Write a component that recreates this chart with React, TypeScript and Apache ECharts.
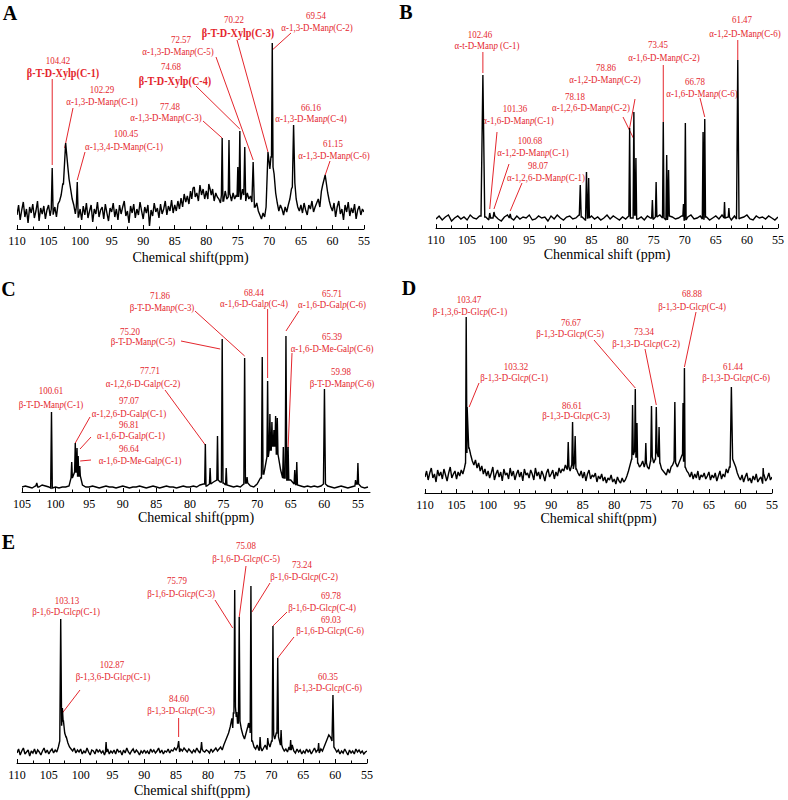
import { useEffect, useRef } from 'react';
import * as echarts from 'echarts';

const SERIF = '"Liberation Serif", "Times New Roman", Times, serif';
const RED = '#e4262d';

// Baseline heights (px above the axis), sampled from the left end of each axis.
// Spectrum A: 110 -> 55 ppm, every 0.25 ppm
const baseA = [
  14, 24, 9, 19, 27, 12, 20, 6, 22, 16, 25, 11, 18, 28, 8, 21, 15, 23, 10, 19,
  24, 13, 20, 15, 22, 12, 25, 28, 34, 45, 58, 70, 62, 50, 40, 30, 24, 15, 22, 12,
  20, 9, 23, 14, 26, 11, 18, 24, 7, 20, 15, 27, 12, 19, 22, 10, 25, 16, 8, 21,
  17, 26, 12, 20, 9, 24, 15, 22, 28, 13, 18, 6, 23, 16, 25, 11, 20, 14, 27, 18,
  10, 22, 16, 24, 3, 19, 13, 26, 17, 21, 11, 25, 15, 20, 28, 14, 23, 18, 29, 16,
  24, 18, 28, 20, 31, 22, 35, 27, 33, 25, 38, 30, 42, 32, 36, 28, 44, 34, 40, 30,
  38, 30, 45, 34, 40, 28, 36, 32, 30, 26, 34, 28, 38, 30, 32, 35, 28, 36, 30, 34,
  32, 38, 30, 40, 34, 28, 36, 30, 33, 27, 32, 22, 26, 18, 14, 10, 16, 12, 22, 35,
  60, 72, 62, 55, 36, 26, 18, 24, 20, 14, 22, 17, 24, 30, 40, 42, 46, 30, 22, 18,
  24, 16, 26, 19, 14, 24, 20, 28, 17, 22, 26, 30, 22, 38, 44, 50, 46, 36, 28, 22,
  18, 26, 12, 22, 28, 15, 20, 9, 24, 17, 27, 13, 21, 16, 25, 10, 19, 23, 14, 20,
  17,
];
// [ppm, height, half-width]
const peaksA: [number, number, number][] = [
  [104.42, 61, 0.15], [102.29, 86, 0.35], [100.45, 47, 0.15], [82.1, 41, 0.2],
  [79.4, 40, 0.2], [77.48, 91, 0.12], [76.4, 89, 0.12], [75.0, 62, 0.12],
  [74.68, 98, 0.12], [73.9, 82, 0.15], [72.57, 67, 0.2], [70.22, 77, 0.3],
  [69.54, 186, 0.12], [66.16, 104, 0.2], [61.15, 54, 0.4],
];
const annA: [number, string, boolean][] = [
  [104.42, 'β-T-D-Xylp(C-1)', true],
  [102.29, 'α-1,3-D-Man{i|p}(C-1)', false],
  [100.45, 'α-1,3,4-D-Man{i|p}(C-1)', false],
  [72.57, 'α-1,3-D-Man{i|p}(C-5)', false],
  [74.68, 'β-T-D-Xylp(C-4)', true],
  [77.48, 'α-1,3-D-Man{i|p}(C-3)', false],
  [70.22, 'β-T-D-Xylp(C-3)', true],
  [69.54, 'α-1,3-D-Man{i|p}(C-2)', false],
  [66.16, 'α-1,3-D-Man{i|p}(C-4)', false],
  [61.15, 'α-1,3-D-Man{i|p}(C-6)', false],
];

// Spectrum B: 110 -> 55 ppm, every 0.5 ppm
const baseB = [
  9, 12, 8, 11, 13, 7, 10, 12, 9, 11,
  8, 13, 10, 9, 12, 14, 11, 8, 10, 12,
  9, 7, 11, 13, 10, 8, 12, 9, 11, 10,
  13, 8, 9, 12, 10, 11, 7, 12, 9, 13,
  10, 8, 11, 12, 9, 10, 13, 11, 8, 10,
  12, 9, 11, 8, 10, 13, 9, 12, 10, 8,
  11, 9, 12, 10, 13, 9, 11, 8, 12, 10,
  9, 11, 13, 10, 8, 12, 11, 9, 10, 12,
  8, 11, 13, 9, 10, 12, 9, 11, 8, 10,
  12, 9, 13, 10, 11, 8, 12, 9, 10, 11,
  13, 9, 8, 12, 10, 11, 9, 12, 10, 8,
  11,
];
const peaksB: [number, number, number][] = [
  [102.46, 153, 0.3], [101.36, 15, 0.15], [100.68, 16, 0.15], [98.07, 14, 0.15],
  [86.8, 43, 0.15], [85.8, 56, 0.15], [85.45, 50, 0.12], [78.86, 100, 0.12],
  [78.18, 116, 0.12], [77.85, 70, 0.12], [75.2, 28, 0.12], [74.6, 46, 0.12],
  [73.45, 106, 0.12], [72.9, 73, 0.12], [72.6, 58, 0.12], [70.2, 24, 0.1],
  [69.9, 105, 0.12], [67.05, 96, 0.12], [66.78, 109, 0.12], [63.6, 26, 0.1],
  [62.9, 20, 0.1], [61.47, 168, 0.2],
];
const annB: [number, string, boolean][] = [
  [102.46, 'α-t-D-Man{i|p} (C-1)', false],
  [101.36, 'α-1,6-D-Man{i|p}(C-1)', false],
  [100.68, 'α-1,2-D-Man{i|p}(C-1)', false],
  [98.07, 'α-1,2,6-D-Man{i|p}(C-1)', false],
  [78.86, 'α-1,2-D-Man{i|p}(C-2)', false],
  [78.18, 'α-1,2,6-D-Man{i|p}(C-2)', false],
  [73.45, 'α-1,6-D-Man{i|p}(C-2)', false],
  [66.78, 'α-1,6-D-Man{i|p}(C-6)', false],
  [61.47, 'α-1,2-D-Man{i|p}(C-6)', false],
];

// Spectrum C: 105 -> 53.5 ppm, every 0.5 ppm
const baseC = [
  5, 6, 5, 4, 6, 5, 7, 6, 5, 4,
  5, 4, 5, 5, 6, 14, 20, 16, 7, 5,
  5, 6, 5, 4, 5, 6, 5, 5, 4, 5,
  6, 5, 4, 5, 5, 6, 5, 4, 5, 6,
  5, 4, 5, 6, 5, 5, 4, 5, 6, 5,
  5, 6, 5, 7, 8, 6, 8, 10, 12, 10,
  9, 7, 6, 5, 6, 5, 8, 9, 6, 5,
  8, 14, 18, 35, 42, 46, 38, 22, 14, 12,
  12, 8, 7, 6, 5, 6, 5, 6, 5, 6,
  8, 6, 5, 4, 5, 6, 5, 4, 5, 6,
  8, 5, 4, 5,
];
const peaksC: [number, number, number][] = [
  [102.8, 9, 0.15], [100.61, 80, 0.12], [97.6, 30, 0.1], [97.07, 49, 0.1],
  [96.81, 44, 0.08], [96.64, 36, 0.08], [96.4, 26, 0.08], [77.71, 48, 0.1],
  [77.0, 24, 0.1], [75.9, 56, 0.1], [75.2, 153, 0.12], [74.6, 24, 0.1],
  [71.86, 134, 0.12], [71.5, 15, 0.1], [69.24, 135, 0.12], [68.44, 111, 0.1],
  [68.1, 78, 0.1], [67.8, 70, 0.1], [67.5, 62, 0.1], [67.25, 76, 0.1],
  [67.0, 74, 0.1], [66.1, 45, 0.1], [65.71, 156, 0.12], [65.39, 45, 0.1],
  [64.4, 22, 0.1], [64.1, 30, 0.1], [59.98, 103, 0.15], [55.35, 12, 0.1],
  [55.0, 29, 0.1],
];
const annC: [number, string, boolean][] = [
  [100.61, 'β-T-D-Man{i|p}(C-1)', false],
  [97.07, 'α-1,2,6-D-Gal{i|p}(C-1)', false],
  [96.81, 'α-1,6-D-Gal{i|p}(C-1)', false],
  [96.64, 'α-1,6-D-Me-Gal{i|p}(C-1)', false],
  [77.71, 'α-1,2,6-D-Gal{i|p}(C-2)', false],
  [75.2, 'β-T-D-Man{i|p}(C-5)', false],
  [71.86, 'β-T-D-Man{i|p}(C-3)', false],
  [68.44, 'α-1,6-D-Gal{i|p}(C-4)', false],
  [65.71, 'α-1,6-D-Gal{i|p}(C-6)', false],
  [65.39, 'α-1,6-D-Me-Gal{i|p}(C-6)', false],
  [59.98, 'β-T-D-Man{i|p}(C-6)', false],
];
const ticksC = [55, 60, 65, 70, 75, 80, 85, 90, 95, 100, 105];
const minorTicksC = [57.5, 62.5, 67.5, 72.5, 77.5, 82.5, 87.5, 92.5, 97.5, 102.5];

// Spectrum D: 110 -> 55 ppm, every 0.25 ppm
const baseD = [
  16, 22, 13, 20, 25, 15, 19, 11, 23, 17, 21, 14, 24, 18, 12, 20, 26, 15, 19, 22,
  14, 21, 17, 23, 19, 25, 30, 40, 45, 38, 32, 28, 33, 25, 30, 22, 27, 19, 24, 17,
  22, 15, 20, 26, 13, 19, 23, 16, 21, 12, 24, 18, 20, 14, 25, 17, 22, 13, 19, 23,
  16, 21, 12, 24, 18, 20, 15, 23, 19, 13, 25, 17, 21, 14, 22, 18, 12, 20, 24, 16,
  19, 23, 14, 21, 17, 25, 20, 24, 22, 28, 24, 26, 22, 28, 24, 30, 24, 20, 17, 22,
  15, 21, 12, 19, 23, 14, 18, 16, 20, 11, 17, 14, 19, 12, 16, 10, 15, 13, 18, 11,
  14, 9, 16, 12, 10, 15, 11, 13, 17, 22, 28, 34, 38, 42, 36, 30, 26, 28, 32, 26,
  30, 26, 24, 32, 36, 30, 34, 40, 36, 30, 24, 22, 20, 18, 24, 20, 26, 28, 32, 30,
  26, 30, 34, 38, 32, 26, 22, 20, 16, 21, 14, 19, 15, 22, 13, 18, 16, 20, 14, 17,
  21, 13, 18, 15, 20, 12, 17, 22, 14, 19, 16, 24, 20, 26, 30, 34, 30, 26, 20, 16,
  13, 18, 11, 16, 20, 12, 15, 10, 17, 13, 19, 11, 14, 16, 10, 18, 12, 15, 20, 13,
  16,
];
const peaksD: [number, number, number][] = [
  [103.47, 176, 0.12], [103.32, 86, 0.25], [87.3, 51, 0.12], [86.61, 71, 0.12],
  [86.2, 57, 0.12], [77.1, 88, 0.12], [76.67, 104, 0.1], [76.4, 70, 0.1],
  [75.0, 50, 0.1], [74.1, 87, 0.12], [73.34, 86, 0.12], [72.9, 66, 0.12],
  [70.4, 91, 0.12], [69.1, 90, 0.08], [68.88, 125, 0.1], [61.44, 106, 0.2],
  [56.4, 25, 0.08],
];
const annD: [number, string, boolean][] = [
  [103.47, 'β-1,3,6-D-Glc{i|p}(C-1)', false],
  [103.32, 'β-1,3-D-Glc{i|p}(C-1)', false],
  [86.61, 'β-1,3-D-Glc{i|p}(C-3)', false],
  [76.67, 'β-1,3-D-Glc{i|p}(C-5)', false],
  [73.34, 'β-1,3-D-Glc{i|p}(C-2)', false],
  [68.88, 'β-1,3-D-Glc{i|p}(C-4)', false],
  [61.44, 'β-1,3-D-Glc{i|p}(C-6)', false],
];

// Spectrum E: 110 -> 55 ppm, every 0.25 ppm
const baseE = [
  10, 14, 8, 12, 15, 9, 11, 13, 7, 12, 10, 14, 9, 13, 11, 8, 12, 15, 10, 13,
  9, 12, 14, 10, 13, 11, 16, 22, 38, 42, 34, 26, 20, 16, 14, 12, 15, 10, 13, 11,
  14, 9, 12, 10, 15, 11, 8, 13, 12, 9, 14, 11, 13, 10, 12, 8, 11, 14, 9, 12,
  10, 13, 9, 14, 11, 12, 8, 13, 10, 15, 11, 9, 12, 14, 10, 13, 11, 8, 12, 10,
  13, 10, 12, 9, 14, 11, 13, 10, 12, 15, 10, 13, 9, 12, 11, 14, 10, 13, 12, 15,
  13, 16, 11, 14, 12, 15, 13, 11, 14, 12, 10, 13, 11, 15, 12, 10, 14, 12, 11, 13,
  12, 10, 14, 11, 13, 15, 12, 14, 16, 13, 18, 22, 26, 30, 36, 44, 50, 56, 46, 40,
  42, 34, 28, 24, 30, 36, 40, 30, 22, 16, 14, 18, 13, 16, 12, 15, 18, 14, 20, 16,
  22, 28, 24, 30, 26, 22, 18, 15, 12, 14, 11, 16, 13, 18, 12, 10, 14, 11, 13, 9,
  12, 10, 14, 11, 13, 9, 12, 15, 11, 13, 10, 14, 12, 16, 20, 24, 28, 26, 22, 16,
  14, 11, 13, 9, 12, 10, 14, 11, 8, 13, 10, 12, 9, 14, 11, 13, 10, 12, 9, 11,
  12,
];
const peaksE: [number, number, number][] = [
  [103.13, 144, 0.15], [102.87, 55, 0.12], [102.5, 30, 0.2], [96.0, 21, 0.1],
  [84.6, 22, 0.15], [81.0, 21, 0.1], [76.1, 35, 0.1], [75.79, 173, 0.12],
  [75.45, 51, 0.1], [75.08, 146, 0.12], [73.5, 35, 0.1], [73.24, 177, 0.12],
  [71.8, 26, 0.1], [70.6, 25, 0.1], [69.78, 137, 0.12], [69.03, 105, 0.12],
  [68.5, 33, 0.1], [67.0, 23, 0.1], [62.6, 20, 0.1], [60.35, 68, 0.15],
];
const annE: [number, string, boolean][] = [
  [103.13, 'β-1,6-D-Glc{i|p}(C-1)', false],
  [102.87, 'β-1,3,6-D-Glc{i|p}(C-1)', false],
  [84.6, 'β-1,3-D-Glc{i|p}(C-3)', false],
  [75.79, 'β-1,6-D-Glc{i|p}(C-3)', false],
  [75.08, 'β-1,6-D-Glc{i|p}(C-5)', false],
  [73.24, 'β-1,6-D-Glc{i|p}(C-2)', false],
  [69.78, 'β-1,6-D-Glc{i|p}(C-4)', false],
  [69.03, 'β-1,6-D-Glc{i|p}(C-6)', false],
  [60.35, 'β-1,3-D-Glc{i|p}(C-6)', false],
];

// Label placement in page pixels:
// [numberX, numberY, nameX, nameY, leaderStartX (-1 = vertical, null = none), leaderStartY, endDx, endDy]
type Place = [number, number, number, number, number | null, number, number, number];
const placeA: Place[] = [
  [58, 60, 63, 73, -1, 79, 0, -3],
  [102, 89, 102, 101, 73, 108, -1, 5],
  [126, 133, 124, 146, 85, 152, 0, -2],
  [181, 39, 178, 51, 216, 57, 0, -2],
  [171, 66, 175, 81, 196, 86, 0, -2],
  [170, 106, 166, 117, 203, 121, 0, 0],
  [234, 19, 238, 33, 237, 40, 0, 0],
  [316, 15, 317, 27, 291, 33, 0, 7],
  [311, 107, 311, 118, null, 0, 0, 0],
  [333, 143, 334, 155, 330, 161, 0, 0],
];
const placeB: Place[] = [
  [480, 34, 487, 45, -1, 52, 0, -2],
  [515, 108, 518, 120, 497, 132, 0, -4],
  [530, 140, 533, 152, 509, 164, 0, -3],
  [538, 165, 546, 177, 522, 183, 0, -3],
  [606, 67, 605, 79, 635, 99, 0, 0],
  [575, 96, 591, 107, 623, 117, 0, 27],
  [658, 44, 664, 57, -1, 65, 0, 0],
  [695, 81, 702, 93, 700, 98, 0, -2],
  [742, 19, 745, 33, -1, 40, 0, 0],
];
const placeC: Place[] = [
  [51, 390, 51, 404, null, 0, 0, 0],
  [129, 400, 129, 413, 90, 417, 0, 0],
  [129, 424, 131, 435, 91, 437, 3, 1],
  [129, 448, 140, 460, 91, 460, 2, 5],
  [150, 370, 143, 383, 165, 390, 0, 1],
  [130, 331, 143, 341, 181, 341, -2, 10],
  [160, 295, 162, 307, 195, 311, 0, -2],
  [254, 292, 254, 303, -1, 309, 0, -3],
  [332, 293, 332, 304, 299, 311, 0, -5],
  [332, 336, 332, 348, 292, 353, 0, 1],
  [341, 371, 342, 383, null, 0, 0, 0],
];
const placeD: Place[] = [
  [469, 299, 470, 311, null, 0, 0, 0],
  [516, 366, 514, 377, 479, 383, 2, 0],
  [572, 405, 576, 415, null, 0, 0, 0],
  [571, 322, 570, 333, 594, 340, 0, -1],
  [644, 331, 646, 343, 645, 349, 0, -2],
  [692, 293, 692, 306, 696, 312, 0, -1],
  [733, 366, 736, 377, null, 0, 0, 0],
];
const placeE: Place[] = [
  [67, 600, 66, 611, null, 0, 0, 0],
  [112, 664, 113, 676, 80, 690, 0, 5],
  [179, 698, 181, 710, -1, 718, 0, -4],
  [177, 580, 181, 593, 215, 600, -2, 38],
  [246, 545, 246, 558, 246, 566, 0, 0],
  [302, 564, 304, 576, 270, 583, 1, 26],
  [331, 595, 322, 607, 287, 612, 0, 0],
  [331, 619, 330, 630, 294, 637, 0, 0],
  [328, 676, 328, 687, null, 0, 0, 0],
];

const TITLE = 'Chemical shift(ppm)';

const panels = [
  { tag: 'A', tagX: 10, tagY: 12.5, grid: { left: 17, top: 5, width: 347, height: 224 }, min: 55, max: 110, start: 110, step: 0.25,
    base: baseA, peaks: peaksA, ann: annA, place: placeA, title: TITLE, nameGap: 21 },
  { tag: 'B', tagX: 406, tagY: 11.5, grid: { left: 436, top: 5, width: 342, height: 223 }, min: 55, max: 110, start: 110, step: 0.5,
    base: baseB, peaks: peaksB, ann: annB, place: placeB, title: 'Chenmical shift (ppm)', nameGap: 19 },
  { tag: 'C', tagX: 8.5, tagY: 288.5, grid: { left: 22, top: 270, width: 348, height: 222 }, min: 53.2, max: 105, start: 105, step: 0.5,
    base: baseC, peaks: peaksC, ann: annC, place: placeC, title: TITLE, nameGap: 18, custom: true },
  { tag: 'D', tagX: 409, tagY: 288, grid: { left: 425, top: 270, width: 347, height: 223 }, min: 55, max: 110, start: 110, step: 0.25,
    base: baseD, peaks: peaksD, ann: annD, place: placeD, title: TITLE, nameGap: 18 },
  { tag: 'E', tagX: 8.5, tagY: 541.5, grid: { left: 17, top: 535, width: 350, height: 228 }, min: 55, max: 110, start: 110, step: 0.25,
    base: baseE, peaks: peaksE, ann: annE, place: placeE, title: TITLE, nameGap: 20 },
];

// Joins the sampled baseline with each listed peak (foot, top, foot), ordered by shift.
function buildTrace(start: number, step: number, base: number[], peaks: [number, number, number][]) {
  const nearest = (ppm: number) => {
    const i = Math.round((start - ppm) / step);
    return base[Math.max(0, Math.min(base.length - 1, i))];
  };
  const pts: [number, number][] = [];
  base.forEach((v, i) => {
    const ppm = start - i * step;
    if (peaks.some(([p, , w]) => ppm > p - w && ppm < p + w)) return;
    pts.push([ppm, v]);
  });
  peaks.forEach(([p, h, w]) => {
    pts.push([p + w, nearest(p + w)], [p, h], [p - w, nearest(p - w)]);
  });
  pts.sort((a, b) => b[0] - a[0]);
  return pts;
}

function labelText(x: number, y: number, text: string, bold: boolean) {
  const size = bold ? 12 : 10.5;
  return {
    type: 'text',
    x,
    y,
    scaleX: 0.85,
    silent: true,
    style: {
      text,
      fontFamily: SERIF,
      fontSize: size,
      fontWeight: bold ? 'bold' : 'normal',
      fill: RED,
      align: 'center',
      verticalAlign: 'middle',
      textAlign: 'center',
      textVerticalAlign: 'middle',
      rich: { i: { fontStyle: 'italic', fontFamily: SERIF, fontSize: size, fill: RED } },
    },
  };
}

export default function App() {
  const ref = useRef<HTMLDivElement>(null);

  useEffect(() => {
    if (!ref.current) return;
    const chart = echarts.init(ref.current, null, { renderer: 'svg' });

    const grids: any[] = [];
    const xAxes: any[] = [];
    const yAxes: any[] = [];
    const series: any[] = [];

    panels.forEach((p, gi) => {
      grids.push({ ...p.grid, containLabel: false, outerBoundsMode: 'none' });
      const axis: any = {
        type: 'value',
        gridIndex: gi,
        position: 'bottom',
        inverse: true,
        min: p.min,
        max: p.max,
        name: p.title,
        nameLocation: 'middle',
        nameGap: p.nameGap,
        nameTextStyle: { fontFamily: SERIF, fontSize: 14, color: '#000' },
        axisLine: { show: true, onZero: false, lineStyle: { color: '#000', width: 1 } },
        axisTick: { show: true, inside: true, length: 4, lineStyle: { color: '#000', width: 1 } },
        axisLabel: { show: true, margin: 6, fontFamily: SERIF, fontSize: 12, color: '#000' },
        splitLine: { show: false },
      };
      if (p.custom) {
        axis.axisTick.customValues = ticksC;
        axis.axisLabel.customValues = ticksC;
      } else {
        axis.interval = 5;
        axis.minorTick = { show: true, splitNumber: 2, length: 2.5, lineStyle: { color: '#000', width: 1 } };
        axis.minorSplitLine = { show: false };
      }
      const xIndex = xAxes.length;
      xAxes.push(axis);
      if (p.custom) {
        xAxes.push({
          type: 'value',
          gridIndex: gi,
          position: 'bottom',
          inverse: true,
          min: p.min,
          max: p.max,
          axisLine: { show: false, onZero: false },
          axisTick: { show: true, inside: true, length: 2.5, customValues: minorTicksC, lineStyle: { color: '#000', width: 1 } },
          axisLabel: { show: false },
          splitLine: { show: false },
        });
      }
      yAxes.push({ type: 'value', gridIndex: gi, min: 0, max: p.grid.height, show: false });
      const trace = buildTrace(p.start, p.step, p.base, p.peaks);
      // The whole trace is drawn as one polyline positioned through the axes' scales.
      series.push({
        type: 'custom',
        coordinateSystem: 'cartesian2d',
        xAxisIndex: xIndex,
        yAxisIndex: gi,
        data: trace,
        silent: true,
        clip: true,
        renderItem: (params: any, api: any) => {
          if (params.dataIndex !== 0) return null;
          const points = trace.map((d) => api.coord(d));
          return {
            type: 'polyline',
            shape: { points },
            style: { stroke: '#000', lineWidth: 1.4, lineJoin: 'miter', miterLimit: 2, fill: null },
          };
        },
      });
    });

    chart.setOption({
      animation: false,
      backgroundColor: '#fff',
      grid: grids,
      xAxis: xAxes,
      yAxis: yAxes,
      series,
    });

    const elements: any[] = [];
    panels.forEach((p, si) => {
      elements.push({
        type: 'text',
        x: p.tagX,
        y: p.tagY,
        silent: true,
        style: {
          text: p.tag,
          fontFamily: SERIF,
          fontSize: 20,
          fontWeight: 'bold',
          fill: '#000',
          align: 'center',
          verticalAlign: 'middle',
          textAlign: 'center',
          textVerticalAlign: 'middle',
        },
      });
      p.ann.forEach(([ppm, name, bold], k) => {
        const [nx, ny, tx, ty, lx, ly, dx, dy] = p.place[k];
        elements.push(labelText(nx, ny, ppm.toFixed(2), false));
        elements.push(labelText(tx, ty, name, bold));
        if (lx === null) return;
        const pk = p.peaks.find((q) => q[0] === ppm);
        if (!pk) return;
        const pt = chart.convertToPixel({ seriesIndex: si }, [ppm, pk[1]]) as number[];
        const ex = pt[0] + dx;
        const ey = pt[1] + dy;
        elements.push({
          type: 'line',
          silent: true,
          shape: { x1: lx < 0 ? ex : lx, y1: ly, x2: ex, y2: ey },
          style: { stroke: RED, lineWidth: 1 },
        });
      });
    });
    chart.setOption({ graphic: { elements } });

    return () => chart.dispose();
  }, []);

  return (
    <div
      ref={ref}
      style={{ position: 'absolute', left: 0, top: 0, width: 788, height: 800, background: '#fff' }}
    />
  );
}
